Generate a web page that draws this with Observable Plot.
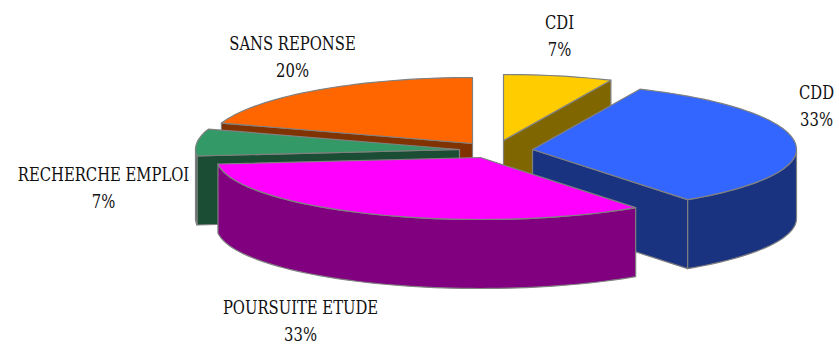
<!DOCTYPE html>
<html lang="fr">
<head>
<meta charset="utf-8">
<style>html,body{margin:0;padding:0;background:#fff}svg{display:block}</style>
<script src="https://cdn.jsdelivr.net/npm/d3@7"></script>
<script src="https://cdn.jsdelivr.net/npm/@observablehq/plot@0.6"></script>
</head>
<body>
<div id="chart"></div>
<script>
// Data, clockwise from 12 o'clock
const categories = ["CDI", "CDD", "POURSUITE ETUDE", "RECHERCHE EMPLOI", "SANS REPONSE"];
const counts = [1, 5, 5, 1, 3];

// Styles
const topColors = ["#FFCC00", "#3366FF", "#FF00FF", "#339966", "#FF6600"];
const sideColors = ["#806600", "#1A3380", "#800080", "#1A4D33", "#803300"];

// Layout of the exploded 3D pie
const apexX = [503, 532, 480, 459, 472];
const apexY = [140, 149, 157, 149, 143];
const labelX = [559, 816, 300, 103, 292];
const labelY = [22, 92, 307, 174, 43];
const RX = 264, RY_BACK = 66, RY_FRONT = 62, DEPTH = 69, LINE = 27.5, WIDTH_FACTOR = 0.865;
const drawOrder = [4, 0, 1, 3, 2];

const total = d3.sum(counts);
const rad = d => d * Math.PI / 180;
const rim = (i, t) => {
  const c = Math.cos(rad(t));
  return [apexX[i] + RX * Math.sin(rad(t)), apexY[i] - (c > 0 ? RY_BACK : RY_FRONT) * c];
};
const range = (a, b) => {
  const out = [];
  for (let t = a; t < b; t += 2) out.push(t);
  out.push(b);
  return out;
};

let acc = 0;
const spans = counts.map(c => { const a = acc; acc += c / total * 360; return [a, acc]; });

const rows = [];
let id = 0;
const poly = (pts, fill) => {
  id++;
  pts.forEach(([x, y]) => rows.push({id, x, y, fill}));
};
for (const i of drawOrder) {
  const [a, b] = spans[i];
  const apex = [apexX[i], apexY[i]];
  const down = ([x, y]) => [x, y + DEPTH];
  const radial = t => { const p = rim(i, t); poly([apex, p, down(p), down(apex)], sideColors[i]); };
  if (Math.sin(rad(b)) > 1e-6) radial(b);
  if (Math.sin(rad(a)) < -1e-6) radial(a);
  const f0 = Math.max(a, 90), f1 = Math.min(b, 270);
  if (f0 < f1) {
    const arc = range(f0, f1).map(t => rim(i, t));
    poly([...arc, ...arc.slice().reverse().map(down)], sideColors[i]);
  }
  poly([apex, ...range(a, b).map(t => rim(i, t))], topColors[i]);
}

const labels = categories.flatMap((name, i) => [
  {text: name, x: labelX[i], y: labelY[i]},
  {text: d3.format(".0%")(counts[i] / total), x: labelX[i], y: labelY[i] + LINE}
]);

const chart = Plot.plot({
  width: 839, height: 344, margin: 0,
  x: {domain: [0, 839], range: [0, 839], axis: null},
  y: {domain: [0, 344], range: [0, 344], axis: null},
  color: {type: "identity"},
  marks: [
    Plot.line(rows, {x: "x", y: "y", z: "id", fill: "fill", stroke: "#808080", strokeWidth: 1.2, curve: "linear-closed"}),
    Plot.text(labels, {x: "x", y: "y", text: "text", fontSize: 19, fill: "#111",
      fontFamily: "'DejaVu Serif Condensed','DejaVu Serif',serif"})
  ]
});
document.getElementById("chart").appendChild(chart);
chart.querySelectorAll("text").forEach(t => {
  if (t.closest("[aria-label='text']")) {
    t.setAttribute("textLength", t.getComputedTextLength() * WIDTH_FACTOR);
    t.setAttribute("lengthAdjust", "spacingAndGlyphs");
  }
});
</script>
</body>
</html>
